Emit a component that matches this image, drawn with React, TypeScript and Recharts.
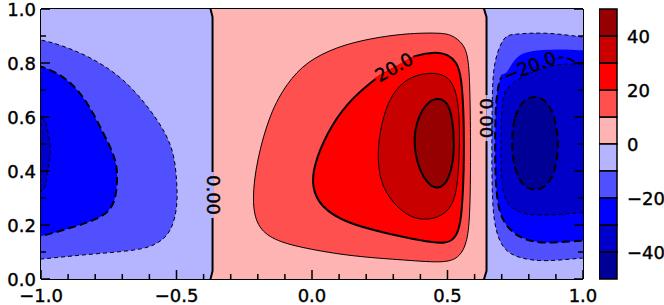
import React from 'react';
import { ComposedChart, Scatter, XAxis, YAxis, BarChart, Bar } from 'recharts';

type Pt = { x: number; y: number };
const toPts = (a: number[][]): Pt[] => a.map(([x, y]) => ({ x, y }));

// ---------- axes ----------
const X_TICKS = [-1, -0.9, -0.8, -0.7, -0.6, -0.5, -0.4, -0.3, -0.2, -0.1, 0, 0.1, 0.2, 0.3, 0.4, 0.5, 0.6, 0.7, 0.8, 0.9, 1];
const Y_TICKS = [0, 0.1, 0.2, 0.3, 0.4, 0.5, 0.6, 0.7, 0.8, 0.9, 1];
const X_MAJOR = 0.5;
const Y_MAJOR = 0.2;

// ---------- colour bar ----------
const CB_LEVELS = [-50, -40, -30, -20, -10, 0, 10, 20, 30, 40, 50];
const CB_TICKS = [-40, -20, 0, 20, 40];
const BAND_COLORS = ['#000096', '#0000c8', '#0000ff', '#5050ff', '#b4b4ff', '#ffb4b4', '#ff5050', '#ff0000', '#c80000', '#960000'];

// ---------- contour geometry (data coordinates) ----------
const POS_BG = [[-0.4, -0.1], [0.66, -0.1], [0.66, 1.1], [-0.4, 1.1]];
const NEG_BG_LEFT = [[-0.3745, -0.1], [-0.3745, 0], [-0.367, 0.03], [-0.367, 0.97], [-0.3745, 1], [-0.3745, 1.1], [-1.1, 1.1], [-1.1, -0.1]];
const NEG_BG_RIGHT = [[0.635, -0.1], [0.635, 0], [0.644, 0.03], [0.644, 0.97], [0.635, 1], [0.635, 1.1], [1.1, 1.1], [1.1, -0.1]];

const LEFT_M10 = [[-1.1, 0.885], [-1, 0.885], [-0.856, 0.837], [-0.745, 0.774], [-0.66, 0.70], [-0.572, 0.589], [-0.517, 0.478], [-0.50, 0.367], [-0.50, 0.267], [-0.524, 0.181], [-0.572, 0.133], [-0.66, 0.107], [-0.845, 0.089], [-1, 0.074], [-1.1, 0.07]];
const LEFT_M20 = [[-1.1, 0.80], [-1, 0.786], [-0.905, 0.737], [-0.831, 0.652], [-0.77, 0.54], [-0.727, 0.44], [-0.72, 0.355], [-0.734, 0.28], [-0.782, 0.23], [-0.88, 0.193], [-1, 0.159], [-1.1, 0.14]];
const LEFT_M30 = [[-1.1, 0.62], [-1, 0.595], [-0.979, 0.566], [-0.967, 0.504], [-0.968, 0.442], [-0.979, 0.38], [-1, 0.323], [-1.1, 0.29]];

const MID_P10 = [[-0.222, 0.29], [-0.204, 0.44], [-0.155, 0.615], [-0.093, 0.725], [-0.02, 0.805], [0.091, 0.86], [0.214, 0.891], [0.349, 0.91], [0.472, 0.912], [0.515, 0.905], [0.558, 0.873], [0.577, 0.823], [0.583, 0.712], [0.586, 0.466], [0.583, 0.219], [0.571, 0.132], [0.546, 0.083], [0.497, 0.058], [0.349, 0.07], [0.152, 0.083], [-0.032, 0.114], [-0.143, 0.144], [-0.204, 0.194]];
const MID_P20 = [[0.0, 0.34], [0.005, 0.416], [0.054, 0.54], [0.128, 0.651], [0.22, 0.731], [0.30, 0.79], [0.38, 0.83], [0.46, 0.842], [0.50, 0.832], [0.534, 0.805], [0.552, 0.749], [0.561, 0.589], [0.561, 0.404], [0.552, 0.219], [0.534, 0.157], [0.50, 0.128], [0.40, 0.142], [0.276, 0.169], [0.128, 0.206], [0.03, 0.268]];
const MID_P30 = [[0.241, 0.503], [0.276, 0.663], [0.349, 0.749], [0.448, 0.768], [0.509, 0.749], [0.540, 0.675], [0.546, 0.527], [0.540, 0.367], [0.522, 0.268], [0.46, 0.219], [0.362, 0.219], [0.276, 0.305], [0.245, 0.391]];
const MID_P40 = [[0.374, 0.527], [0.392, 0.60], [0.425, 0.655], [0.466, 0.672], [0.50, 0.655], [0.518, 0.60], [0.527, 0.49], [0.515, 0.40], [0.49, 0.345], [0.455, 0.333], [0.42, 0.36], [0.386, 0.428]];

const RIGHT_M10 = [[1.1, 0.885], [0.993, 0.897], [0.866, 0.91], [0.755, 0.907], [0.706, 0.885], [0.675, 0.799], [0.665, 0.65], [0.664, 0.404], [0.673, 0.219], [0.706, 0.12], [0.767, 0.08], [0.866, 0.068], [0.993, 0.077], [1.1, 0.08]];
// filled area of the -20 band and its (slightly different) contour line
const RIGHT_M20_FILL = [[1.1, 0.845], [0.993, 0.847], [0.93, 0.85], [0.85, 0.848], [0.78, 0.835], [0.74, 0.80], [0.712, 0.756], [0.694, 0.737], [0.680, 0.65], [0.676, 0.466], [0.682, 0.317], [0.706, 0.219], [0.767, 0.157], [0.866, 0.135], [0.993, 0.142], [1.1, 0.142]];
const RIGHT_M20_LINE = [[1.1, 0.80], [0.993, 0.80], [0.96, 0.81], [0.92, 0.82], [0.87, 0.805], [0.815, 0.785], [0.76, 0.77], [0.712, 0.756], [0.694, 0.737], [0.680, 0.65], [0.676, 0.466], [0.682, 0.317], [0.706, 0.219], [0.767, 0.157], [0.866, 0.135], [0.993, 0.142], [1.1, 0.142]];
const RIGHT_M30 = [[1.1, 0.79], [0.99, 0.795], [0.92, 0.795], [0.85, 0.78], [0.78, 0.75], [0.73, 0.715], [0.703, 0.65], [0.698, 0.466], [0.705, 0.33], [0.74, 0.262], [0.82, 0.238], [0.93, 0.24], [0.99, 0.245], [1.1, 0.25]];
const RIGHT_M40 = [[0.735, 0.50], [0.746, 0.605], [0.778, 0.662], [0.823, 0.68], [0.868, 0.662], [0.898, 0.595], [0.911, 0.50], [0.900, 0.405], [0.868, 0.343], [0.82, 0.325], [0.776, 0.345], [0.746, 0.41]];

// contour labels (data coordinates)
const ZERO_LABELS = [{ x: -0.362, y: 0.311, text: '0.00' }, { x: 0.644, y: 0.596, text: '0.00' }];
const LEVEL_LABELS = [{ x: 0.3026, y: 0.785, text: '20.0' }, { x: 0.803, y: 0.787, text: '\u221220.0' }];

// ---------- rendering helpers ----------
const FONT = '"DejaVu Sans", sans-serif';
const FS = 18;
const TXT = { fontFamily: FONT, fontSize: FS, fill: '#000', stroke: '#000', strokeWidth: 0.4 };
const isMult = (v: number, m: number) => Math.abs(v / m - Math.round(v / m)) < 1e-6;
const fmt1 = (v: number) => (v < -1e-9 ? '\u2212' : '') + Math.abs(v).toFixed(1);
const fmt0 = (v: number) => (v < 0 ? '\u2212' : '') + Math.abs(v).toFixed(0);

const bandFill = (level: number) => {
  const idx = CB_LEVELS.indexOf(level);
  return level > 0 ? BAND_COLORS[idx] : BAND_COLORS[idx - 1];
};

const Nothing = () => <g />;

const BottomTick = (p: any) => {
  const { x, y, payload } = p;
  const v = payload.value;
  const major = isMult(v, X_MAJOR);
  return (
    <g>
      <line x1={x} y1={y} x2={x} y2={y - (major ? 9 : 5)} stroke="#000" strokeWidth={1.5} />
      {major && (
        <text x={x} y={y + 23} textAnchor="middle" {...TXT}>{fmt1(v)}</text>
      )}
    </g>
  );
};
const TopTick = (p: any) => {
  const { x, y, payload } = p;
  const major = isMult(payload.value, X_MAJOR);
  return <line x1={x} y1={y} x2={x} y2={y + (major ? 9 : 5)} stroke="#000" strokeWidth={1.5} />;
};
const LeftTick = (p: any) => {
  const { x, y, payload } = p;
  const v = payload.value;
  const major = isMult(v, Y_MAJOR);
  return (
    <g>
      <line x1={x} y1={y} x2={x + (major ? 9 : 5)} y2={y} stroke="#000" strokeWidth={1.5} />
      {major && (
        <text x={x - 5} y={y + 6.5} textAnchor="end" {...TXT}>{fmt1(v)}</text>
      )}
    </g>
  );
};
const RightTick = (p: any) => {
  const { x, y, payload } = p;
  const major = isMult(payload.value, Y_MAJOR);
  return <line x1={x} y1={y} x2={x - (major ? 9 : 5)} y2={y} stroke="#000" strokeWidth={1.5} />;
};
const CbTick = (p: any) => {
  const { x, y, payload } = p;
  return (
    <text x={x + 10} y={y + 6.5} textAnchor="start" {...TXT}>{fmt0(payload.value)}</text>
  );
};

const ZeroLabelShape = (p: any) => {
  const { cx, cy, index } = p;
  const leftCol = index === 0 ? BAND_COLORS[4] : BAND_COLORS[5];
  const rightCol = index === 0 ? BAND_COLORS[5] : BAND_COLORS[4];
  return (
    <g>
      <rect x={cx - 3} y={cy - 23} width={3} height={46} fill={leftCol} />
      <rect x={cx} y={cy - 23} width={3} height={46} fill={rightCol} />
      <text x={cx} y={cy} transform={`rotate(90 ${cx} ${cy})`} textAnchor="middle" dominantBaseline="central" {...TXT}>
        {p.payload.text}
      </text>
    </g>
  );
};

const LevelLabelShape = (p: any) => {
  const { cx, cy, index } = p;
  const angle = index === 0 ? -29 : -21;
  const above = index === 0 ? BAND_COLORS[6] : BAND_COLORS[2];
  const below = index === 0 ? BAND_COLORS[7] : BAND_COLORS[2];
  const w = index === 0 ? 44 : 60;
  return (
    <g transform={`rotate(${angle} ${cx} ${cy})`}>
      <rect x={cx - w / 2} y={cy - 2.5} width={w} height={2.5} fill={above} />
      <rect x={cx - w / 2} y={cy} width={w} height={2.5} fill={below} />
      <text x={cx} y={cy} textAnchor="middle" dominantBaseline="central" {...TXT}>
        {p.payload.text}
      </text>
    </g>
  );
};

type C = { pts: number[][]; level: number; closed: boolean; fill?: string; mode?: 'fill' | 'line' };

export default function App() {
  const contours: C[] = [
    { pts: POS_BG, level: 0, closed: true, fill: BAND_COLORS[5] },
    { pts: NEG_BG_LEFT, level: 0, closed: true, fill: BAND_COLORS[4] },
    { pts: NEG_BG_RIGHT, level: 0, closed: true, fill: BAND_COLORS[4] },
    { pts: LEFT_M10, level: -10, closed: false },
    { pts: LEFT_M20, level: -20, closed: false },
    { pts: LEFT_M30, level: -30, closed: false },
    { pts: MID_P10, level: 10, closed: true },
    { pts: MID_P20, level: 20, closed: true },
    { pts: MID_P30, level: 30, closed: true },
    { pts: MID_P40, level: 40, closed: true },
    { pts: RIGHT_M10, level: -10, closed: false },
    { pts: RIGHT_M20_FILL, level: -20, closed: false, mode: 'fill' },
    { pts: RIGHT_M20_LINE, level: -20, closed: false, mode: 'line' },
    { pts: RIGHT_M30, level: -30, closed: false },
    { pts: RIGHT_M40, level: -40, closed: true },
  ];

  const cbRow: Record<string, any> = { name: 'cb' };
  const cbOrder: number[] = [];
  for (let i = 0; i < CB_LEVELS.length - 1; i++) {
    const lo = CB_LEVELS[i];
    const hi = CB_LEVELS[i + 1];
    cbRow['b' + i] = lo >= 0 ? hi - lo : -(hi - lo);
  }
  for (let i = 5; i < 10; i++) cbOrder.push(i);
  for (let i = 4; i >= 0; i--) cbOrder.push(i);

  return (
    <div style={{ position: 'absolute', left: 0, top: 0, width: 664, height: 305, background: '#fff' }}>
      <div style={{ position: 'absolute', left: 0, top: 0 }}>
        <ComposedChart width={600} height={305} margin={{ top: 8, right: 16, bottom: 0, left: 0 }}>
          {contours.map((c, i) => {
            const isBg = !!c.fill;
            let fill = c.fill ?? bandFill(c.level);
            const thick = isMult(c.level, 20);
            const dash = c.level < 0 ? (thick ? '8 4' : '4 3') : undefined;
            let stroke = isBg && i === 0 ? 'none' : '#000';
            if (c.mode === 'fill') stroke = 'none';
            if (c.mode === 'line') fill = 'none';
            return (
              <Scatter
                key={'c' + i}
                data={toPts(c.pts)}
                xAxisId="b"
                yAxisId="l"
                dataKey="y"
                isAnimationActive={false}
                legendType="none"
                shape={Nothing}
                lineType="joint"
                lineJointType={isBg ? 'linearClosed' : c.closed ? 'basisClosed' : 'natural'}
                line={{ fill, stroke, strokeWidth: thick ? 2 : 1, strokeDasharray: isBg ? undefined : dash }}
              />
            );
          })}
          <Scatter data={ZERO_LABELS} xAxisId="b" yAxisId="l" dataKey="y" isAnimationActive={false} legendType="none" shape={ZeroLabelShape} />
          <Scatter data={LEVEL_LABELS} xAxisId="b" yAxisId="l" dataKey="y" isAnimationActive={false} legendType="none" shape={LevelLabelShape} />
          <XAxis xAxisId="b" dataKey="x" type="number" domain={[-1, 1]} ticks={X_TICKS} interval={0} allowDataOverflow orientation="bottom" height={26} tickLine={false} tickSize={0} tickMargin={0} tick={BottomTick} axisLine={{ stroke: '#000', strokeWidth: 2 }} />
          <XAxis xAxisId="t" type="number" domain={[-1, 1]} ticks={X_TICKS} interval={0} allowDataOverflow orientation="top" height={1} tickLine={false} tickSize={0} tickMargin={0} tick={TopTick} axisLine={{ stroke: '#000', strokeWidth: 2 }} />
          <YAxis yAxisId="l" dataKey="y" type="number" domain={[0, 1]} ticks={Y_TICKS} interval={0} allowDataOverflow orientation="left" width={41} tickLine={false} tickSize={0} tickMargin={0} tick={LeftTick} axisLine={{ stroke: '#000', strokeWidth: 2 }} />
          <YAxis yAxisId="r" type="number" domain={[0, 1]} ticks={Y_TICKS} interval={0} allowDataOverflow orientation="right" width={1} tickLine={false} tickSize={0} tickMargin={0} tick={RightTick} axisLine={{ stroke: '#000', strokeWidth: 2 }} />
        </ComposedChart>
      </div>
      <div style={{ position: 'absolute', left: 599, top: 0 }}>
        <BarChart width={65} height={305} data={[cbRow]} margin={{ top: 9, right: 0, bottom: 26, left: 0 }} stackOffset="sign" barCategoryGap={0}>
          <XAxis dataKey="name" hide />
          <YAxis orientation="right" type="number" domain={[-50, 50]} ticks={CB_TICKS} interval={0} width={47} axisLine={false} tickLine={false} tickSize={0} tickMargin={0} tick={CbTick} />
          {cbOrder.map((i) => (
            <Bar key={'b' + i} dataKey={'b' + i} stackId="cb" fill={BAND_COLORS[i]} stroke="#000" strokeWidth={1.5} isAnimationActive={false} legendType="none" />
          ))}
        </BarChart>
      </div>
    </div>
  );
}
